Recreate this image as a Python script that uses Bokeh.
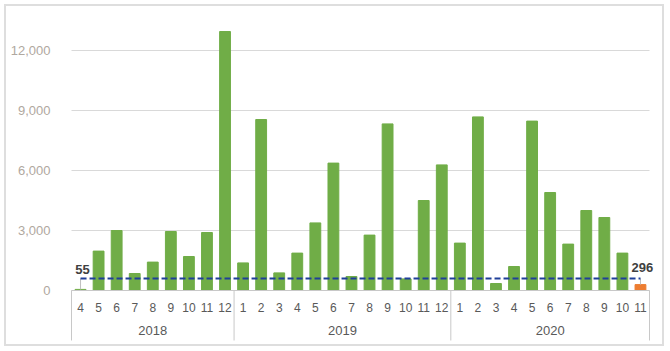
from bokeh.plotting import figure
from bokeh.models import (ColumnDataSource, FactorRange, FixedTicker, NumeralTickFormatter)
from bokeh.core.properties import value
from bokeh.embed import file_html
from bokeh.resources import INLINE

# ---- data ----
years = ["2018"] * 9 + ["2019"] * 12 + ["2020"] * 11
months = ["4", "5", "6", "7", "8", "9", "10", "11", "12",
          "1", "2", "3", "4", "5", "6", "7", "8", "9", "10", "11", "12",
          "1", "2", "3", "4", "5", "6", "7", "8", "9", "10", "11"]
counts = [55, 1970, 3000, 850, 1420, 2950, 1700, 2900, 12950,
          1380, 8550, 880, 1870, 3380, 6370, 700, 2770, 8330, 580, 4500, 6280,
          2370, 8680, 350, 1200, 8470, 4900, 2320, 4000, 3650, 1870, 296]
threshold = 600
y_ticks = [0, 3000, 6000, 9000, 12000]

GREEN = "#70ad47"
ORANGE = "#ed7d31"
FONT = "Liberation Sans"
GRAY_LINE = "#c8c8c8"

factors = list(zip(years, months))
n = len(factors)

src_main = ColumnDataSource(dict(x=factors[:-1], top=counts[:-1]))
src_last = ColumnDataSource(dict(x=factors[-1:], top=counts[-1:]))
src_line = ColumnDataSource(dict(x=factors, y=[threshold] * n))
ends = [0, n - 1]
src_lead = ColumnDataSource(dict(x=[factors[i] for i in ends],
                                 y0=[threshold] * 2,
                                 y1=[counts[i] for i in ends]))
src_lab = ColumnDataSource(dict(x=[factors[i] for i in ends],
                                y=[threshold] * 2,
                                t=[f"{counts[i]:,}" for i in ends],
                                dy=[-5, -7]))
src_grid = ColumnDataSource(dict(x0=[0] * len(y_ticks), x1=[n] * len(y_ticks),
                                 y=y_ticks))

# group boundaries (synthetic coordinates) for separators and year labels
bounds = [0] + [i for i in range(1, n) if years[i] != years[i - 1]] + [n]
src_sep = ColumnDataSource(dict(x=bounds, y0=[0] * len(bounds),
                                y1=[-2500] * len(bounds)))
group_names = [years[b] for b in bounds[:-1]]
group_mid = [(a + b) / 2 for a, b in zip(bounds[:-1], bounds[1:])]
src_year = ColumnDataSource(dict(x=group_mid, y=[-2020] * len(group_mid),
                                 t=group_names))

PAD = 13 / 18.0625
xr = FactorRange(*factors, range_padding=PAD, range_padding_units="absolute",
                 factor_padding=0, group_padding=0, subgroup_padding=0)

p = figure(x_range=xr, y_range=(-2700, 13750), width=656, height=338,
           output_backend="svg", toolbar_location=None,
           min_border_left=52, min_border_right=0,
           min_border_top=9, min_border_bottom=0)
p.styles = {"outline": "2px solid #dedede", "margin": "6px"}
p.outline_line_color = None
p.background_fill_color = "white"
p.border_fill_color = "white"
p.xgrid.grid_line_color = None
p.ygrid.grid_line_color = None

p.segment(x0="x0", y0="y", x1="x1", y1="y", source=src_grid,
          line_color="#d9d9d9", line_width=1, level="underlay")
p.vbar(x="x", top="top", width=0.6, source=src_main, color=GREEN)
p.vbar(x="x", top="top", width=0.6, source=src_last, color=ORANGE)
p.segment(x0="x", y0="y0", x1="x", y1="y1", source=src_lead,
          line_color="#bfbfbf", line_width=1)
p.segment(x0="x", y0="y0", x1="x", y1="y1", source=src_sep,
          line_color=GRAY_LINE, line_width=1)
p.line(x="x", y="y", source=src_line, line_color="#1f3f99",
       line_width=2, line_dash="6 3")
p.text(x="x", y="y", text="t", source=src_lab, text_font=value(FONT),
       text_font_size="13px", text_font_style="bold", text_color="#404040",
       text_align="center", text_baseline="bottom", y_offset="dy", x_offset=2)
p.text(x="x", y="y", text="t", source=src_year, text_font=value(FONT),
       text_font_size="13px", text_color="#595959",
       text_align="center", text_baseline="middle")

# y axis
p.yaxis.ticker = FixedTicker(ticks=y_ticks)
p.yaxis.formatter = NumeralTickFormatter(format="0,0")
p.yaxis.axis_line_color = None
p.yaxis.major_tick_line_color = None
p.yaxis.minor_tick_line_color = None
p.yaxis.major_label_standoff = 2
p.yaxis.major_label_text_font = FONT
p.yaxis.major_label_text_font_size = "13px"
p.yaxis.major_label_text_color = "#b0a8a0"

# x axis, pinned at y = 0 (year level drawn above as text)
xa = p.xaxis[0]
xa.fixed_location = 0
xa.bounds = (0, n)
xa.axis_line_color = GRAY_LINE
xa.axis_line_width = 1
xa.major_tick_line_color = None
xa.minor_tick_line_color = None
xa.major_label_text_font = FONT
xa.major_label_text_font_size = "12px"
xa.major_label_text_color = "#595959"
xa.group_text_color = None
xa.separator_line_color = None
xa.major_label_standoff = 6

open("out.html", "w").write(file_html(p, INLINE))
